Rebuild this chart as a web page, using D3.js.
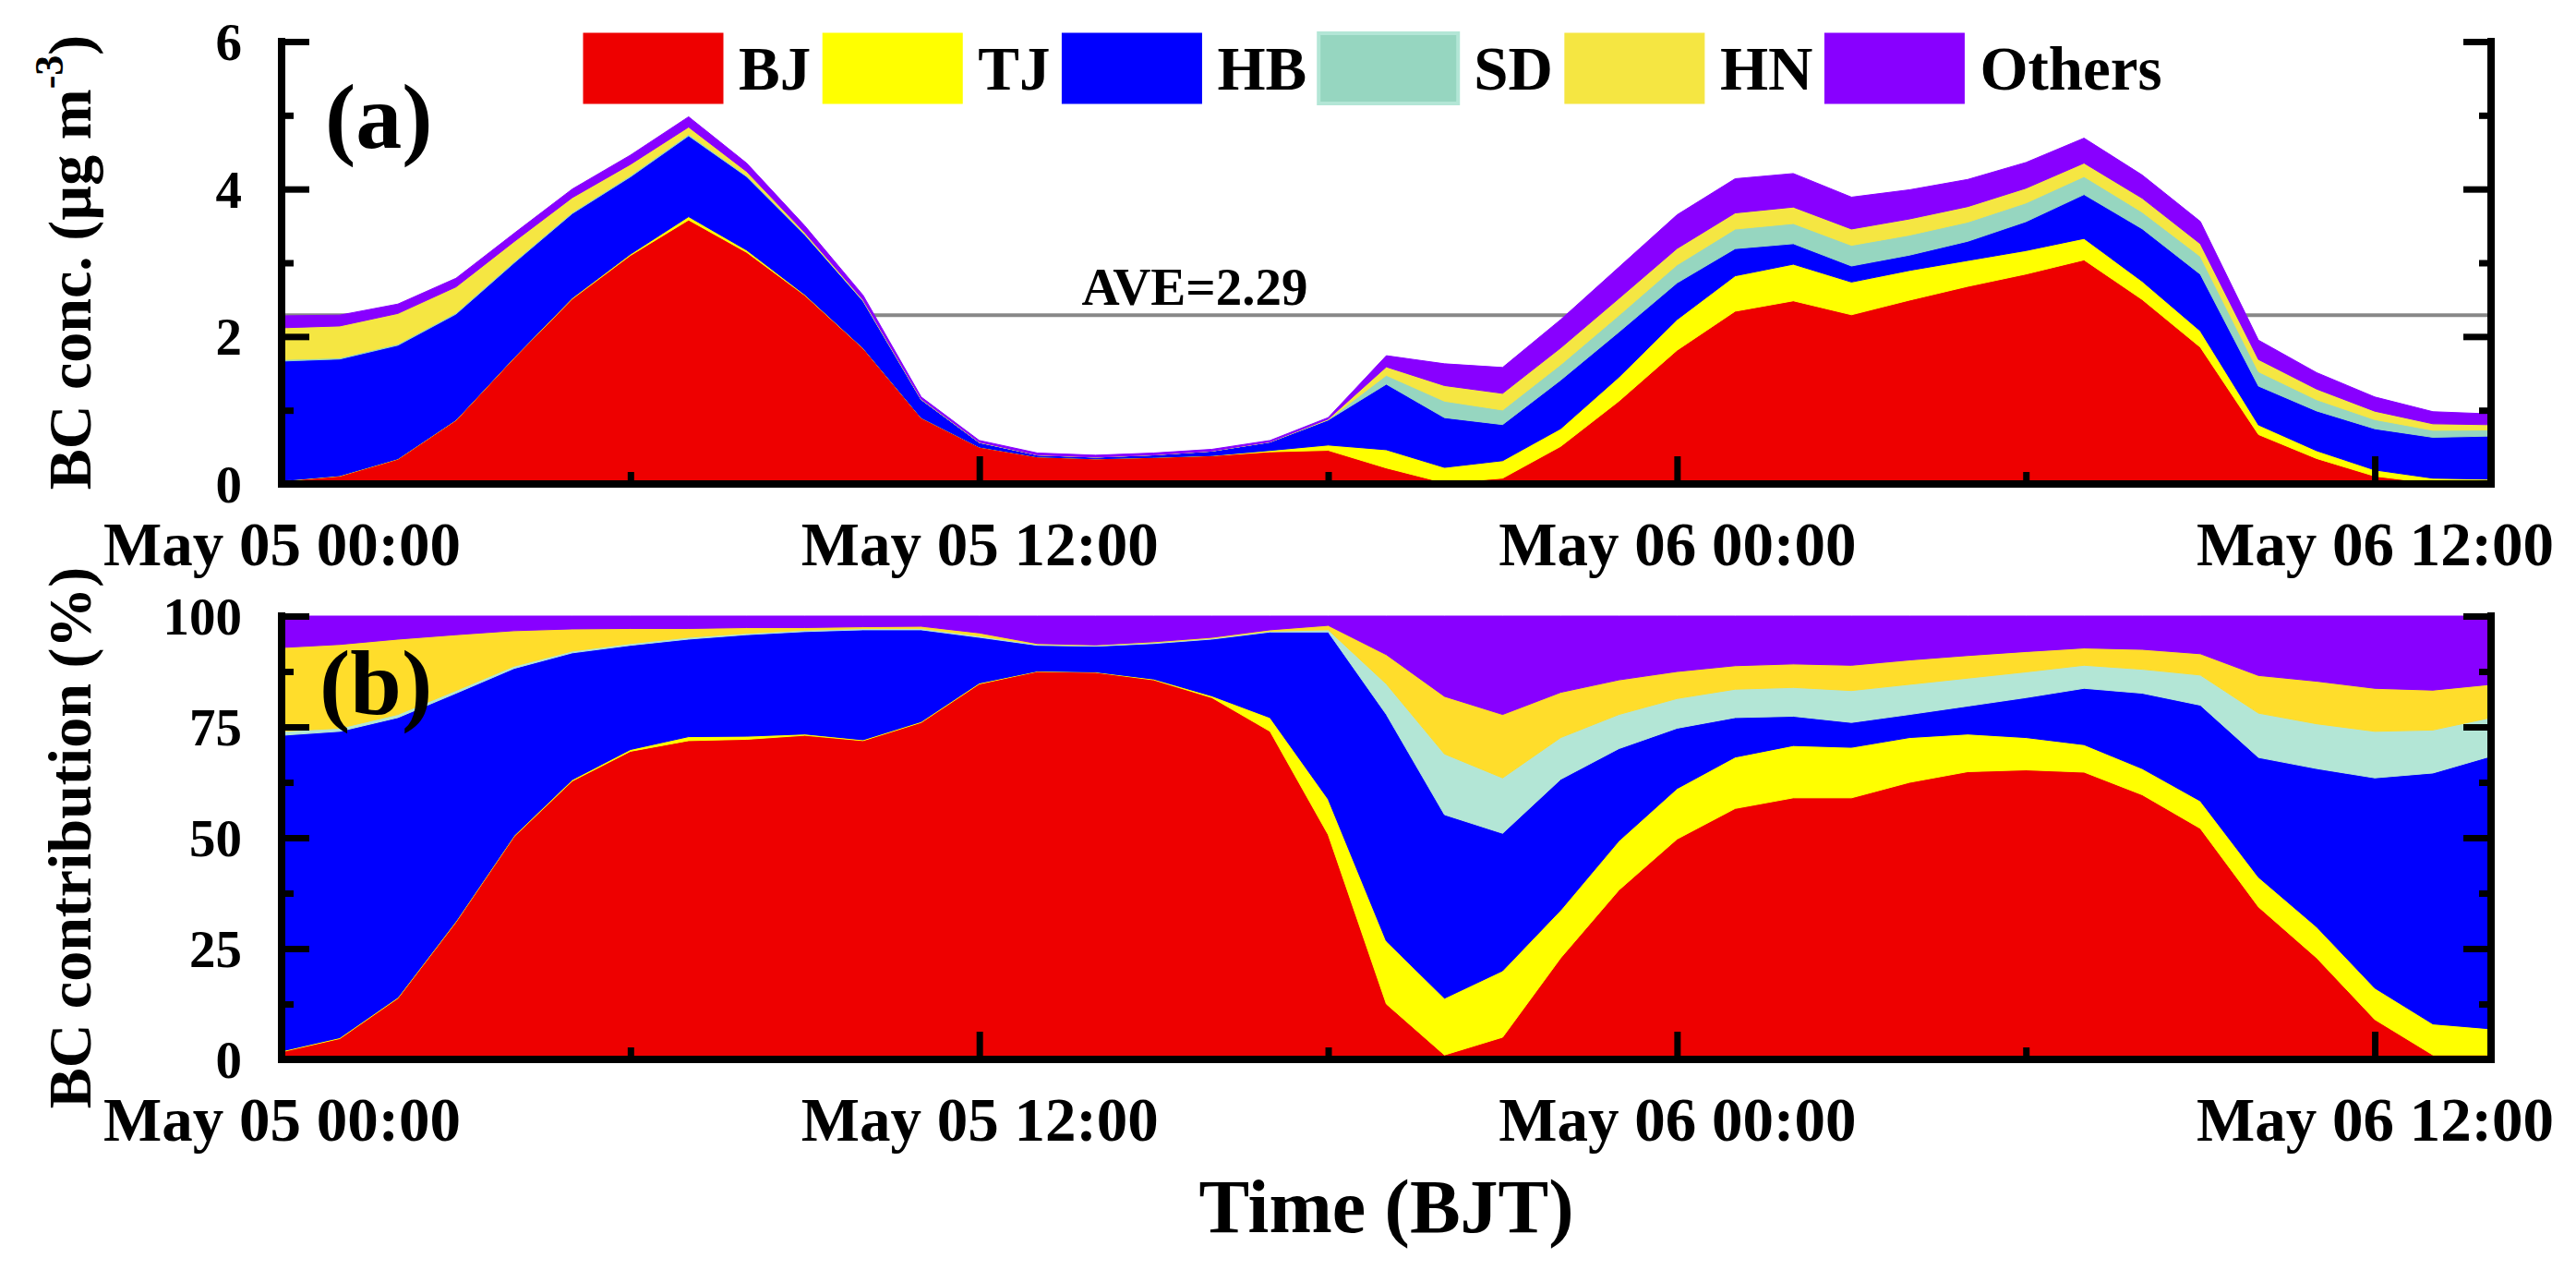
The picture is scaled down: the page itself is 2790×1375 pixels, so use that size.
<!DOCTYPE html>
<html>
<head>
<meta charset="utf-8">
<script src="https://cdn.jsdelivr.net/npm/d3@7"></script>
<style>
  html, body { margin: 0; padding: 0; background: #fff; }
  svg text { font-family: "Times New Roman", "Liberation Serif", serif; font-weight: bold; fill: #000; }
</style>
</head>
<body>
<svg id="chart"></svg>
<script>
// source regions, bottom to top of the stack
const regions = ["BJ", "TJ", "HB", "SD", "HN", "Others"];
const colorsA = ["#ee0000", "#ffff00", "#0000ff", "#96d6c0", "#f5e642", "#8800ff"];
const colorsB = ["#ee0000", "#ffff00", "#0000ff", "#b3e6d6", "#ffdd2b", "#8800ff"];

// total BC (ug m-3), hourly from May 05 00:00 to May 06 14:00
const total = [2.28, 2.29, 2.44, 2.79, 3.40, 4.00, 4.46, 4.98, 4.35, 3.50,
  2.56, 1.18, 0.59, 0.42, 0.39, 0.42, 0.47, 0.59, 0.90, 1.74,
  1.63, 1.58, 2.23, 2.94, 3.65, 4.14, 4.21, 3.89, 3.99, 4.13,
  4.36, 4.69, 4.19, 3.56, 1.95, 1.51, 1.18, 0.98, 0.95];

// contribution of each region (%)
const pctBJ = [1.7, 4.7, 13.8, 31.0, 50.3, 62.8, 69.5, 71.9, 72.2, 73.1,
  71.9, 76.0, 84.7, 87.5, 87.3, 85.6, 81.6, 74.0, 50.7, 12.5,
  1.0, 5.0, 22.9, 38.2, 49.7, 56.6, 59.0, 59.0, 62.5, 64.9,
  65.3, 64.8, 59.7, 52.1, 34.4, 22.9, 9.0, 1.0, 1.0];
const pctTJ = [0.2, 0.2, 0.2, 0.2, 0.2, 0.3, 0.4, 0.9, 0.7, 0.3,
  0.2, 0.2, 0.2, 0.1, 0.1, 0.2, 0.4, 3.1, 8.0, 14.2,
  12.8, 15.0, 10.8, 11.1, 11.4, 11.6, 11.8, 11.4, 10.1, 8.5,
  7.3, 6.2, 5.9, 6.2, 6.7, 7.0, 7.1, 7.0, 5.9];
const pctHB = [71.2, 69.1, 63.1, 51.4, 37.7, 28.6, 23.5, 22.0, 22.9, 23.1,
  24.8, 20.7, 10.3, 5.8, 5.8, 8.0, 12.8, 19.3, 37.7, 51.1,
  41.4, 31.0, 29.5, 20.8, 13.6, 8.9, 6.6, 5.6, 5.2, 6.3,
  9.0, 12.7, 17.0, 21.6, 27.0, 35.7, 47.4, 56.6, 61.5];
const pctSD = [0.9, 0.7, 0.7, 0.6, 0.5, 0.4, 0.4, 0.4, 0.3, 0.3,
  0.3, 0.3, 0.3, 0.2, 0.2, 0.2, 0.2, 0.2, 0.5, 6.9,
  13.7, 12.5, 9.4, 7.7, 6.7, 6.4, 6.5, 7.2, 6.8, 6.3,
  5.8, 5.2, 5.4, 6.8, 10.0, 10.1, 10.5, 9.7, 8.7];
const pctHN = [18.9, 18.9, 17.0, 12.6, 8.0, 5.0, 3.4, 2.0, 1.3, 0.6,
  0.4, 0.5, 0.7, 0.2, 0.1, 0.2, 0.2, 0.3, 1.0, 6.6,
  13.0, 14.3, 10.2, 7.8, 6.1, 5.3, 5.3, 5.7, 5.5, 5.1,
  4.6, 3.9, 4.5, 4.8, 8.5, 9.6, 9.7, 9.0, 7.5];
const pctOthers = [7.1, 6.4, 5.2, 4.2, 3.3, 2.9, 2.8, 2.8, 2.6, 2.6,
  2.4, 2.3, 3.8, 6.2, 6.5, 5.8, 4.8, 3.1, 2.1, 8.7,
  18.1, 22.2, 17.2, 14.4, 12.5, 11.2, 10.8, 11.1, 9.9, 8.9,
  8.0, 7.2, 7.5, 8.5, 13.4, 14.7, 16.3, 16.7, 15.4];

const average = 2.29;

const xTickHours = [0, 12, 24, 36];
const xMinorHours = [6, 18, 30];
const xTickLabels = ["May 05 00:00", "May 05 12:00", "May 06 00:00", "May 06 12:00"];
const yTicksA = [0, 2, 4, 6];
const yMinorA = [1, 3, 5];
const yTicksB = [0, 0.25, 0.5, 0.75, 1];
const yTickLabelsB = ["0", "25", "50", "75", "100"];
const yMinorB = [0.125, 0.375, 0.625, 0.875];

const W = 2790, H = 1375;
const start = new Date(2021, 4, 5, 0);
const times = total.map((_, i) => d3.timeHour.offset(start, i));
const pcts = [pctBJ, pctTJ, pctHB, pctSD, pctHN, pctOthers];

// concentration of each region = share x total
const rows = times.map((t, i) => {
  const row = { time: t };
  regions.forEach((r, k) => { row[r] = pcts[k][i] * total[i] / 100; });
  return row;
});

const svg = d3.select("#chart").attr("width", W).attr("height", H);

const x = d3.scaleTime().domain([times[0], times[times.length - 1]]).range([305, 2698]);
const yA = d3.scaleLinear().domain([0, 6]).range([524, 45]);
const yB = d3.scaleLinear().domain([0, 1]).range([1147, 667]);

const stackA = d3.stack().keys(regions)(rows);
const stackB = d3.stack().keys(regions).offset(d3.stackOffsetExpand)(rows);

const drawPanel = (stacked, y, colors, majorY, minorY, yLabels, yFontSize, before) => {
  const g = svg.append("g");
  if (before) before(g);

  const area = d3.area()
    .x(d => x(d.data.time))
    .y0(d => y(d[0]))
    .y1(d => y(d[1]));

  g.selectAll("path.layer")
    .data(stacked)
    .join("path")
    .attr("class", "layer")
    .attr("fill", (d, i) => colors[i])
    .attr("stroke", (d, i) => colors[i])
    .attr("stroke-width", 1)
    .attr("d", area);

  const [y0, y1] = y.range();
  const [x0, x1] = x.range();

  // each tick set gets its own group, ticks point inward
  const axisGroup = (tx, ty, axis) => {
    const a = g.append("g").attr("transform", `translate(${tx},${ty})`).call(axis);
    a.attr("font-family", null).attr("font-size", null);
    a.select(".domain").remove();
    a.selectAll(".tick line").attr("stroke", "#000").attr("stroke-width", 7);
    return a;
  };

  const bottom = axisGroup(0, y0, d3.axisBottom(x)
    .tickValues(xTickHours.map(h => times[h]))
    .tickSize(-30).tickSizeOuter(0).tickPadding(40)
    .tickFormat((d, i) => xTickLabels[i]));
  bottom.selectAll("text").attr("font-size", 67).attr("dy", "0.71em");
  axisGroup(0, y0, d3.axisBottom(x)
    .tickValues(xMinorHours.map(h => times[h]))
    .tickSize(-13).tickSizeOuter(0).tickFormat(""));

  const left = axisGroup(x0, 0, d3.axisLeft(y)
    .tickValues(majorY).tickSize(-30).tickSizeOuter(0).tickPadding(43)
    .tickFormat((d, i) => yLabels[i]));
  left.selectAll("text").attr("font-size", yFontSize).attr("dy", "0.34em");
  axisGroup(x0, 0, d3.axisLeft(y).tickValues(minorY).tickSize(-13).tickSizeOuter(0).tickFormat(""));

  axisGroup(x1, 0, d3.axisRight(y).tickValues(majorY).tickSize(-30).tickSizeOuter(0).tickFormat(""));
  axisGroup(x1, 0, d3.axisRight(y).tickValues(minorY).tickSize(-13).tickSizeOuter(0).tickFormat(""));

  // frame: left, bottom, right
  const frame = [[x0, y1, x0, y0], [x0, y0, x1, y0], [x1, y0, x1, y1]];
  g.selectAll("line.frame")
    .data(frame)
    .join("line")
    .attr("class", "frame")
    .attr("x1", d => d[0]).attr("y1", d => d[1])
    .attr("x2", d => d[2]).attr("y2", d => d[3])
    .attr("stroke", "#000")
    .attr("stroke-width", 8)
    .attr("stroke-linecap", "square");

  return g;
};

// panel (a): concentrations, with the mean line behind the areas
const gA = drawPanel(stackA, yA, colorsA, yTicksA, yMinorA, yTicksA.map(String), 57, g => {
  g.append("line")
    .attr("x1", x.range()[0]).attr("x2", x.range()[1])
    .attr("y1", yA(average)).attr("y2", yA(average))
    .attr("stroke", "#888")
    .attr("stroke-width", 4);
});

gA.append("text")
  .attr("x", 1294).attr("y", 330)
  .attr("text-anchor", "middle")
  .attr("font-size", 57)
  .text("AVE=" + average);

gA.append("text")
  .attr("x", 352).attr("y", 160)
  .attr("font-size", 100)
  .text("(a)");

// legend
let lx = 632;
regions.forEach((r, i) => {
  const item = svg.append("g");
  item.append("rect")
    .attr("x", lx).attr("y", 36)
    .attr("width", 151).attr("height", 76)
    .attr("fill", colorsA[i])
    .attr("stroke", r === "SD" ? "#b3e6d6" : colorsA[i])
    .attr("stroke-width", r === "SD" ? 4 : 1);
  const t = item.append("text")
    .attr("x", lx + 151 + 17).attr("y", 97)
    .attr("font-size", 67)
    .text(r);
  lx = lx + 151 + 17 + t.node().getComputedTextLength() + 13;
});

// panel (b): percentage contribution
const gB = drawPanel(stackB, yB, colorsB, yTicksB, yMinorB, yTickLabelsB, 57);

gB.append("text")
  .attr("x", 346).attr("y", 773)
  .attr("font-size", 100)
  .text("(b)");

// axis titles
const titleA = svg.append("text")
  .attr("transform", "translate(98,284) rotate(-90)")
  .attr("text-anchor", "middle")
  .attr("font-size", 66);
titleA.append("tspan").text("BC conc. (\u00b5g m");
titleA.append("tspan").attr("font-size", 44).attr("dy", -30).text("-3");
titleA.append("tspan").attr("dy", 30).text(")");

svg.append("text")
  .attr("transform", "translate(98,907) rotate(-90)")
  .attr("text-anchor", "middle")
  .attr("font-size", 66)
  .text("BC contribution (%)");

svg.append("text")
  .attr("x", (x.range()[0] + x.range()[1]) / 2).attr("y", 1334)
  .attr("text-anchor", "middle")
  .attr("font-size", 82)
  .text("Time (BJT)");
</script>
</body>
</html>
